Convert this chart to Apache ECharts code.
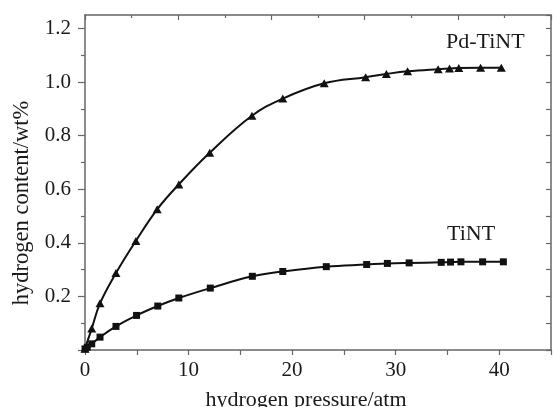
<!DOCTYPE html>
<html>
<head>
<meta charset="utf-8">
<script src="https://cdn.jsdelivr.net/npm/echarts@6/dist/echarts.min.js"></script>
<style>
  html, body { margin: 0; padding: 0; background: #fff; }
  #chart { width: 553px; height: 407px; }
</style>
</head>
<body>
<div id="chart"></div>
<script>
    // Pd-TiNT (triangles)
    var pdPressure = [0, 0.65, 1.45, 2.99, 4.91, 6.97, 9.06, 12.04, 16.12, 19.1, 23.1, 27.1, 29.1, 31.15, 34.1, 35.2, 36.1, 38.2, 40.2];
    var pdContent = [0.005, 0.08, 0.174, 0.287, 0.407, 0.525, 0.618, 0.736, 0.874, 0.938, 0.995, 1.018, 1.03, 1.04, 1.048, 1.05, 1.052, 1.053, 1.053];

    // TiNT (squares)
    var tiPressure = [0, 0.22, 0.65, 1.45, 2.99, 4.98, 7.03, 9.06, 12.1, 16.16, 19.1, 23.3, 27.2, 29.2, 31.3, 34.4, 35.3, 36.3, 38.4, 40.4];
    var tiContent = [0.004, 0.01, 0.023, 0.048, 0.088, 0.129, 0.164, 0.194, 0.231, 0.275, 0.293, 0.311, 0.319, 0.323, 0.325, 0.327, 0.328, 0.329, 0.329, 0.329];

    // axis ticks / labels
    var xLabels = [0, 10, 20, 30, 40];
    var yLabels = [0.2, 0.4, 0.6, 0.8, 1.0, 1.2];
    var yMajorTicks = [0, 0.2, 0.4, 0.6, 0.8, 1.0, 1.2];
    var yMinorTicks = [0.1, 0.3, 0.5, 0.7, 0.9, 1.1];

    var seriesNames = ['Pd-TiNT', 'TiNT'];
    var xName = 'hydrogen pressure/atm';
    var yName = 'hydrogen content/wt%';

    function pairs(xs, ys) {
        var out = [];
        for (var i = 0; i < xs.length; i++) {
            out.push([xs[i], ys[i]]);
        }
        return out;
    }

    var font = '"Liberation Serif", "Times New Roman", serif';
    var axisColor = '#666';
    var textColor = '#1a1a1a';

    var chart = echarts.init(document.getElementById('chart'));

    chart.setOption({
        backgroundColor: '#fff',
        animation: false,
        grid: { left: 85, right: 2, top: 15, bottom: 57 },
        xAxis: [{
            type: 'value',
            position: 'bottom',
            min: 0, max: 45, interval: 5,
            axisLine: { show: true, onZero: false, lineStyle: { color: axisColor, width: 1.5 } },
            axisTick: { show: true, inside: false, length: 5, lineStyle: { color: axisColor, width: 1.2 } },
            axisLabel: {
                customValues: xLabels,
                margin: 10,
                color: textColor,
                fontFamily: font,
                fontSize: 21
            },
            splitLine: { show: false }
        }, {
            type: 'value',
            position: 'top',
            min: 0, max: 45, interval: 9,
            axisLine: { show: true, onZero: false, lineStyle: { color: axisColor, width: 1.5 } },
            axisTick: { show: true, inside: true, length: 5, lineStyle: { color: axisColor, width: 1.2 } },
            minorTick: { show: true, splitNumber: 2, length: 3, lineStyle: { color: axisColor, width: 1.2 } },
            axisLabel: { show: false },
            splitLine: { show: false }
        }],
        yAxis: [{
            type: 'value',
            position: 'left',
            min: 0, max: 1.25, interval: 0.1,
            axisLine: { show: true, onZero: false, lineStyle: { color: axisColor, width: 1.5 } },
            axisTick: { show: true, inside: false, length: 7, customValues: yMajorTicks, lineStyle: { color: axisColor, width: 1.2 } },
            axisLabel: {
                customValues: yLabels,
                margin: 14,
                color: textColor,
                fontFamily: font,
                fontSize: 21,
                formatter: function (v) { return v.toFixed(1); }
            },
            splitLine: { show: false }
        }, {
            type: 'value',
            position: 'left',
            min: 0, max: 1.25, interval: 0.1,
            axisLine: { show: false, onZero: false },
            axisTick: { show: true, inside: false, length: 4, customValues: yMinorTicks, lineStyle: { color: axisColor, width: 1.2 } },
            axisLabel: { show: false },
            splitLine: { show: false }
        }, {
            type: 'value',
            position: 'right',
            min: 0, max: 1.25, interval: 0.1,
            axisLine: { show: true, onZero: false, lineStyle: { color: axisColor, width: 1.5 } },
            axisTick: { show: true, inside: true, length: 5, lineStyle: { color: axisColor, width: 1.2 } },
            axisLabel: { show: false },
            splitLine: { show: false }
        }],
        series: [{
            name: seriesNames[0],
            type: 'line',
            xAxisIndex: 0,
            yAxisIndex: 0,
            data: pairs(pdPressure, pdContent),
            smooth: 0.4,
            symbol: 'triangle',
            symbolSize: [9, 8],
            lineStyle: { color: '#111', width: 2 },
            itemStyle: { color: '#111' }
        }, {
            name: seriesNames[1],
            type: 'line',
            xAxisIndex: 0,
            yAxisIndex: 0,
            data: pairs(tiPressure, tiContent),
            smooth: 0.4,
            symbol: 'rect',
            symbolSize: 7,
            lineStyle: { color: '#111', width: 2 },
            itemStyle: { color: '#111' }
        }],
        graphic: [{
            type: 'text',
            left: 446, top: 31,
            style: { text: seriesNames[0], font: '22px ' + font, fill: textColor }
        }, {
            type: 'text',
            left: 447, top: 223,
            style: { text: seriesNames[1], font: '22px ' + font, fill: textColor }
        }, {
            type: 'text',
            x: 306, y: 400,
            style: { text: xName, font: '22px ' + font, fill: textColor, align: 'center', verticalAlign: 'middle' }
        }, {
            type: 'text',
            x: 22, y: 203,
            rotation: Math.PI / 2,
            style: { text: yName, font: '22.5px ' + font, fill: textColor, align: 'center', verticalAlign: 'middle' }
        }]
    });
</script>
</body>
</html>
